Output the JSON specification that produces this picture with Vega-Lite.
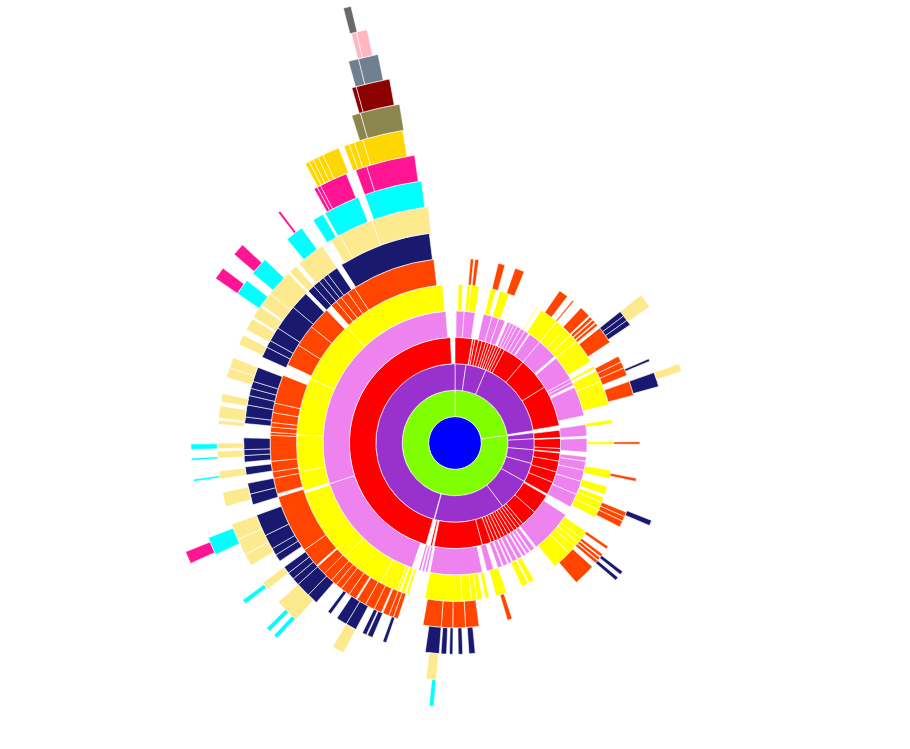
{
  "$schema": "https://vega.github.io/schema/vega-lite/v6.json",
  "width": 910,
  "height": 749,
  "autosize": {"type": "none"},
  "padding": 0,
  "background": "white",
  "view": {"stroke": null},
  "data": {
    "values": [
      {"depth": 0, "start": 0, "end": 360},
      {"depth": 1, "start": 0, "end": 81.5},
      {"depth": 1, "start": 81.5, "end": 360},
      {"depth": 2, "start": 0, "end": 8},
      {"depth": 2, "start": 8, "end": 23},
      {"depth": 2, "start": 23, "end": 81},
      {"depth": 2, "start": 82.5, "end": 87},
      {"depth": 2, "start": 87, "end": 95},
      {"depth": 2, "start": 95, "end": 105},
      {"depth": 2, "start": 105, "end": 119},
      {"depth": 2, "start": 119, "end": 143},
      {"depth": 2, "start": 143, "end": 195},
      {"depth": 2, "start": 195.5, "end": 360},
      {"depth": 3, "start": 0, "end": 9.5},
      {"depth": 3, "start": 9.8, "end": 11},
      {"depth": 3, "start": 11, "end": 13},
      {"depth": 3, "start": 13, "end": 15},
      {"depth": 3, "start": 15, "end": 17},
      {"depth": 3, "start": 17, "end": 18.5},
      {"depth": 3, "start": 18.5, "end": 20},
      {"depth": 3, "start": 20, "end": 21.5},
      {"depth": 3, "start": 21.5, "end": 23},
      {"depth": 3, "start": 23, "end": 24.5},
      {"depth": 3, "start": 24.5, "end": 26},
      {"depth": 3, "start": 26, "end": 28},
      {"depth": 3, "start": 28, "end": 40},
      {"depth": 3, "start": 40, "end": 58},
      {"depth": 3, "start": 58, "end": 80.5},
      {"depth": 3, "start": 83, "end": 87},
      {"depth": 3, "start": 87.5, "end": 93},
      {"depth": 3, "start": 93, "end": 95},
      {"depth": 3, "start": 95.5, "end": 100},
      {"depth": 3, "start": 100, "end": 106},
      {"depth": 3, "start": 106, "end": 112},
      {"depth": 3, "start": 112, "end": 119},
      {"depth": 3, "start": 120, "end": 131},
      {"depth": 3, "start": 131, "end": 140},
      {"depth": 3, "start": 140, "end": 142},
      {"depth": 3, "start": 142, "end": 144},
      {"depth": 3, "start": 144, "end": 146},
      {"depth": 3, "start": 146, "end": 148},
      {"depth": 3, "start": 148, "end": 150},
      {"depth": 3, "start": 150, "end": 152},
      {"depth": 3, "start": 152, "end": 154},
      {"depth": 3, "start": 154, "end": 156},
      {"depth": 3, "start": 156, "end": 158},
      {"depth": 3, "start": 158, "end": 160},
      {"depth": 3, "start": 160, "end": 165},
      {"depth": 3, "start": 165, "end": 191.5},
      {"depth": 3, "start": 192.5, "end": 193.5},
      {"depth": 3, "start": 196, "end": 357.5},
      {"depth": 4, "start": 0.5, "end": 4},
      {"depth": 4, "start": 4, "end": 8.8},
      {"depth": 4, "start": 12.5, "end": 16.4},
      {"depth": 4, "start": 16.4, "end": 19.5},
      {"depth": 4, "start": 19.5, "end": 22.4},
      {"depth": 4, "start": 23.5, "end": 25},
      {"depth": 4, "start": 25, "end": 26.5},
      {"depth": 4, "start": 26.5, "end": 28},
      {"depth": 4, "start": 28, "end": 30},
      {"depth": 4, "start": 30, "end": 32},
      {"depth": 4, "start": 32, "end": 34},
      {"depth": 4, "start": 34.5, "end": 40},
      {"depth": 4, "start": 40, "end": 49},
      {"depth": 4, "start": 50, "end": 61},
      {"depth": 4, "start": 61, "end": 62.5},
      {"depth": 4, "start": 62.5, "end": 64},
      {"depth": 4, "start": 65, "end": 78},
      {"depth": 4, "start": 82, "end": 87},
      {"depth": 4, "start": 88, "end": 94},
      {"depth": 4, "start": 96, "end": 98},
      {"depth": 4, "start": 98, "end": 102},
      {"depth": 4, "start": 102, "end": 107},
      {"depth": 4, "start": 107, "end": 113},
      {"depth": 4, "start": 113, "end": 119},
      {"depth": 4, "start": 123, "end": 142},
      {"depth": 4, "start": 143, "end": 145},
      {"depth": 4, "start": 145.5, "end": 147},
      {"depth": 4, "start": 147.5, "end": 149},
      {"depth": 4, "start": 149.5, "end": 151.5},
      {"depth": 4, "start": 152, "end": 154},
      {"depth": 4, "start": 154.5, "end": 156},
      {"depth": 4, "start": 156.5, "end": 158.5},
      {"depth": 4, "start": 159, "end": 161},
      {"depth": 4, "start": 163, "end": 166},
      {"depth": 4, "start": 168, "end": 191},
      {"depth": 4, "start": 192, "end": 193},
      {"depth": 4, "start": 193.5, "end": 194.5},
      {"depth": 4, "start": 195, "end": 196},
      {"depth": 4, "start": 199, "end": 252},
      {"depth": 4, "start": 252, "end": 356},
      {"depth": 5, "start": 1.2, "end": 2.8},
      {"depth": 5, "start": 4.4, "end": 5.9},
      {"depth": 5, "start": 5.9, "end": 8.8},
      {"depth": 5, "start": 13, "end": 15},
      {"depth": 5, "start": 16.5, "end": 20},
      {"depth": 5, "start": 31, "end": 31.4},
      {"depth": 5, "start": 33, "end": 40},
      {"depth": 5, "start": 40, "end": 44},
      {"depth": 5, "start": 44, "end": 47},
      {"depth": 5, "start": 47, "end": 50},
      {"depth": 5, "start": 50, "end": 59},
      {"depth": 5, "start": 61, "end": 62},
      {"depth": 5, "start": 63, "end": 67},
      {"depth": 5, "start": 67, "end": 76},
      {"depth": 5, "start": 81.5, "end": 83},
      {"depth": 5, "start": 89.5, "end": 90.5},
      {"depth": 5, "start": 100, "end": 103},
      {"depth": 5, "start": 106, "end": 109},
      {"depth": 5, "start": 110, "end": 112},
      {"depth": 5, "start": 112, "end": 115},
      {"depth": 5, "start": 115, "end": 118},
      {"depth": 5, "start": 124, "end": 127},
      {"depth": 5, "start": 127, "end": 129},
      {"depth": 5, "start": 129, "end": 131},
      {"depth": 5, "start": 131, "end": 134},
      {"depth": 5, "start": 134, "end": 141},
      {"depth": 5, "start": 150, "end": 152},
      {"depth": 5, "start": 152.5, "end": 155},
      {"depth": 5, "start": 161, "end": 165},
      {"depth": 5, "start": 167.5, "end": 169},
      {"depth": 5, "start": 170, "end": 172},
      {"depth": 5, "start": 172, "end": 174},
      {"depth": 5, "start": 174, "end": 177.5},
      {"depth": 5, "start": 177.5, "end": 191},
      {"depth": 5, "start": 197, "end": 198},
      {"depth": 5, "start": 198.5, "end": 200},
      {"depth": 5, "start": 200.5, "end": 201.5},
      {"depth": 5, "start": 201.5, "end": 208},
      {"depth": 5, "start": 208, "end": 224},
      {"depth": 5, "start": 224, "end": 251.5},
      {"depth": 5, "start": 252.5, "end": 259.5},
      {"depth": 5, "start": 259.5, "end": 273},
      {"depth": 5, "start": 273, "end": 294},
      {"depth": 5, "start": 294, "end": 317},
      {"depth": 5, "start": 317, "end": 355.5},
      {"depth": 6, "start": 4.8, "end": 5.8},
      {"depth": 6, "start": 6.2, "end": 7.4},
      {"depth": 6, "start": 13.5, "end": 15.7},
      {"depth": 6, "start": 19, "end": 22},
      {"depth": 6, "start": 34.5, "end": 37.5},
      {"depth": 6, "start": 39.5, "end": 40},
      {"depth": 6, "start": 43, "end": 46.5},
      {"depth": 6, "start": 47, "end": 48},
      {"depth": 6, "start": 48.3, "end": 49.3},
      {"depth": 6, "start": 49.6, "end": 50.5},
      {"depth": 6, "start": 51.5, "end": 57},
      {"depth": 6, "start": 62, "end": 64},
      {"depth": 6, "start": 64, "end": 66},
      {"depth": 6, "start": 66, "end": 68.5},
      {"depth": 6, "start": 70.5, "end": 75},
      {"depth": 6, "start": 89.6, "end": 90.4},
      {"depth": 6, "start": 101, "end": 102},
      {"depth": 6, "start": 112, "end": 113.5},
      {"depth": 6, "start": 113.5, "end": 115},
      {"depth": 6, "start": 115, "end": 117},
      {"depth": 6, "start": 124, "end": 125},
      {"depth": 6, "start": 127, "end": 128},
      {"depth": 6, "start": 128.3, "end": 129.3},
      {"depth": 6, "start": 129.5, "end": 130.5},
      {"depth": 6, "start": 132, "end": 139},
      {"depth": 6, "start": 162, "end": 163.5},
      {"depth": 6, "start": 172.5, "end": 176.7},
      {"depth": 6, "start": 176.7, "end": 180.7},
      {"depth": 6, "start": 180.7, "end": 184.3},
      {"depth": 6, "start": 184.3, "end": 190},
      {"depth": 6, "start": 198, "end": 199.5},
      {"depth": 6, "start": 199.5, "end": 201},
      {"depth": 6, "start": 201, "end": 203},
      {"depth": 6, "start": 203.5, "end": 206},
      {"depth": 6, "start": 206, "end": 209},
      {"depth": 6, "start": 209, "end": 212},
      {"depth": 6, "start": 212.5, "end": 215},
      {"depth": 6, "start": 215, "end": 218},
      {"depth": 6, "start": 218, "end": 220},
      {"depth": 6, "start": 220, "end": 222},
      {"depth": 6, "start": 222, "end": 225},
      {"depth": 6, "start": 225, "end": 228},
      {"depth": 6, "start": 228.5, "end": 234.6},
      {"depth": 6, "start": 234.6, "end": 253},
      {"depth": 6, "start": 254, "end": 259},
      {"depth": 6, "start": 259, "end": 261},
      {"depth": 6, "start": 261, "end": 264.3},
      {"depth": 6, "start": 264.3, "end": 272.4},
      {"depth": 6, "start": 272.4, "end": 273.3},
      {"depth": 6, "start": 273.3, "end": 275},
      {"depth": 6, "start": 275, "end": 276.4},
      {"depth": 6, "start": 276.4, "end": 279.5},
      {"depth": 6, "start": 279.5, "end": 282.5},
      {"depth": 6, "start": 282.5, "end": 291.5},
      {"depth": 6, "start": 295, "end": 302},
      {"depth": 6, "start": 302, "end": 309},
      {"depth": 6, "start": 309, "end": 316},
      {"depth": 6, "start": 318, "end": 320},
      {"depth": 6, "start": 320, "end": 322},
      {"depth": 6, "start": 322, "end": 324.5},
      {"depth": 6, "start": 324.5, "end": 327},
      {"depth": 6, "start": 327, "end": 353.4},
      {"depth": 7, "start": 51.5, "end": 53},
      {"depth": 7, "start": 53, "end": 54.5},
      {"depth": 7, "start": 54.5, "end": 56},
      {"depth": 7, "start": 66.5, "end": 67.2},
      {"depth": 7, "start": 70.5, "end": 74.5},
      {"depth": 7, "start": 111.5, "end": 113},
      {"depth": 7, "start": 127.5, "end": 128.5},
      {"depth": 7, "start": 129.5, "end": 130.5},
      {"depth": 7, "start": 174.5, "end": 176.2},
      {"depth": 7, "start": 177.9, "end": 179.1},
      {"depth": 7, "start": 180.6, "end": 181.5},
      {"depth": 7, "start": 182.3, "end": 183.8},
      {"depth": 7, "start": 184.3, "end": 188.1},
      {"depth": 7, "start": 199, "end": 200},
      {"depth": 7, "start": 203, "end": 204.5},
      {"depth": 7, "start": 204.8, "end": 206},
      {"depth": 7, "start": 208, "end": 211},
      {"depth": 7, "start": 211, "end": 214},
      {"depth": 7, "start": 216, "end": 217},
      {"depth": 7, "start": 221, "end": 224},
      {"depth": 7, "start": 224, "end": 228},
      {"depth": 7, "start": 228, "end": 230},
      {"depth": 7, "start": 230, "end": 232},
      {"depth": 7, "start": 232, "end": 234},
      {"depth": 7, "start": 236, "end": 238},
      {"depth": 7, "start": 238, "end": 240},
      {"depth": 7, "start": 240, "end": 244},
      {"depth": 7, "start": 244, "end": 250},
      {"depth": 7, "start": 253, "end": 256},
      {"depth": 7, "start": 256, "end": 259},
      {"depth": 7, "start": 261.3, "end": 263.5},
      {"depth": 7, "start": 264.8, "end": 266.6},
      {"depth": 7, "start": 266.6, "end": 268.2},
      {"depth": 7, "start": 268.2, "end": 271.4},
      {"depth": 7, "start": 275.3, "end": 277.1},
      {"depth": 7, "start": 277.1, "end": 280.4},
      {"depth": 7, "start": 280.4, "end": 283},
      {"depth": 7, "start": 283, "end": 285},
      {"depth": 7, "start": 285, "end": 287},
      {"depth": 7, "start": 287, "end": 291},
      {"depth": 7, "start": 294, "end": 297},
      {"depth": 7, "start": 297, "end": 299},
      {"depth": 7, "start": 299, "end": 303},
      {"depth": 7, "start": 303, "end": 310},
      {"depth": 7, "start": 310, "end": 315},
      {"depth": 7, "start": 316, "end": 318},
      {"depth": 7, "start": 318, "end": 320},
      {"depth": 7, "start": 320, "end": 321.5},
      {"depth": 7, "start": 321.5, "end": 323},
      {"depth": 7, "start": 323, "end": 326},
      {"depth": 7, "start": 327.5, "end": 353},
      {"depth": 8, "start": 51.5, "end": 55},
      {"depth": 8, "start": 70.5, "end": 72.5},
      {"depth": 8, "start": 184.5, "end": 187},
      {"depth": 8, "start": 208, "end": 211},
      {"depth": 8, "start": 222, "end": 228},
      {"depth": 8, "start": 232, "end": 234},
      {"depth": 8, "start": 239, "end": 242},
      {"depth": 8, "start": 242, "end": 246},
      {"depth": 8, "start": 246, "end": 250},
      {"depth": 8, "start": 254.5, "end": 258},
      {"depth": 8, "start": 261.3, "end": 263.2},
      {"depth": 8, "start": 266.3, "end": 268},
      {"depth": 8, "start": 268.6, "end": 270},
      {"depth": 8, "start": 274.5, "end": 275.5},
      {"depth": 8, "start": 276, "end": 279},
      {"depth": 8, "start": 280, "end": 282},
      {"depth": 8, "start": 286, "end": 288.5},
      {"depth": 8, "start": 288.5, "end": 291},
      {"depth": 8, "start": 294.5, "end": 297},
      {"depth": 8, "start": 298.5, "end": 301.5},
      {"depth": 8, "start": 302, "end": 305},
      {"depth": 8, "start": 305.5, "end": 309},
      {"depth": 8, "start": 309, "end": 315.5},
      {"depth": 8, "start": 316, "end": 318},
      {"depth": 8, "start": 319, "end": 326},
      {"depth": 8, "start": 328.5, "end": 331},
      {"depth": 8, "start": 331, "end": 339.5},
      {"depth": 8, "start": 339.5, "end": 353.5},
      {"depth": 9, "start": 184.6, "end": 185.6},
      {"depth": 9, "start": 222.3, "end": 223.3},
      {"depth": 9, "start": 224.5, "end": 225.5},
      {"depth": 9, "start": 232.5, "end": 233.5},
      {"depth": 9, "start": 245, "end": 249},
      {"depth": 9, "start": 261.6, "end": 262.1},
      {"depth": 9, "start": 266.2, "end": 266.7},
      {"depth": 9, "start": 268.6, "end": 269.8},
      {"depth": 9, "start": 304.5, "end": 308},
      {"depth": 9, "start": 310, "end": 314},
      {"depth": 9, "start": 320.5, "end": 324.5},
      {"depth": 9, "start": 327.5, "end": 330},
      {"depth": 9, "start": 330.5, "end": 338.5},
      {"depth": 9, "start": 340, "end": 352.7},
      {"depth": 10, "start": 245.5, "end": 248},
      {"depth": 10, "start": 304.5, "end": 307},
      {"depth": 10, "start": 310.5, "end": 313},
      {"depth": 10, "start": 322.5, "end": 323},
      {"depth": 10, "start": 331, "end": 331.7},
      {"depth": 10, "start": 331.7, "end": 332.4},
      {"depth": 10, "start": 332.4, "end": 338},
      {"depth": 10, "start": 340, "end": 342.3},
      {"depth": 10, "start": 342.3, "end": 352},
      {"depth": 11, "start": 331.8, "end": 332.6},
      {"depth": 11, "start": 332.6, "end": 333.4},
      {"depth": 11, "start": 333.4, "end": 334.4},
      {"depth": 11, "start": 334.4, "end": 335.4},
      {"depth": 11, "start": 335.4, "end": 338.5},
      {"depth": 11, "start": 339.5, "end": 340.5},
      {"depth": 11, "start": 340.5, "end": 341.5},
      {"depth": 11, "start": 341.5, "end": 343.1},
      {"depth": 11, "start": 343.1, "end": 350.5},
      {"depth": 12, "start": 342.5, "end": 344},
      {"depth": 12, "start": 344, "end": 350.7},
      {"depth": 13, "start": 343.8, "end": 344.5},
      {"depth": 13, "start": 344.5, "end": 349.8},
      {"depth": 14, "start": 344.4, "end": 345.9},
      {"depth": 14, "start": 345.9, "end": 348.8},
      {"depth": 15, "start": 345.8, "end": 346.5},
      {"depth": 15, "start": 346.5, "end": 348},
      {"depth": 16, "start": 345.6, "end": 346.6}
    ]
  },
  "mark": {
    "type": "arc",
    "x": 455,
    "y": 443,
    "radiusOffset": 26.4,
    "stroke": "white",
    "strokeWidth": 0.6
  },
  "encoding": {
    "theta": {
      "field": "start",
      "type": "quantitative",
      "stack": null,
      "scale": {"domain": [0, 360], "range": [0, 6.283185307179586]}
    },
    "theta2": {"field": "end"},
    "radius": {
      "field": "depth",
      "type": "quantitative",
      "scale": {"type": "linear", "domain": [0, 17], "range": [0, 449], "zero": true}
    },
    "radius2": {"field": "depth"},
    "color": {
      "field": "depth",
      "type": "ordinal",
      "legend": null,
      "scale": {
        "domain": [0, 1, 2, 3, 4, 5, 6, 7, 8, 9, 10, 11, 12, 13, 14, 15, 16],
        "range": ["#0000ff", "#7fff00", "#9932cc", "#ff0000", "#ee82ee", "#ffff00", "#ff4500", "#191970", "#fde98e", "#00ffff", "#ff1493", "#ffd700", "#8b864e", "#8b0000", "#708090", "#ffb6c1", "#696969"]
      }
    }
  }
}
